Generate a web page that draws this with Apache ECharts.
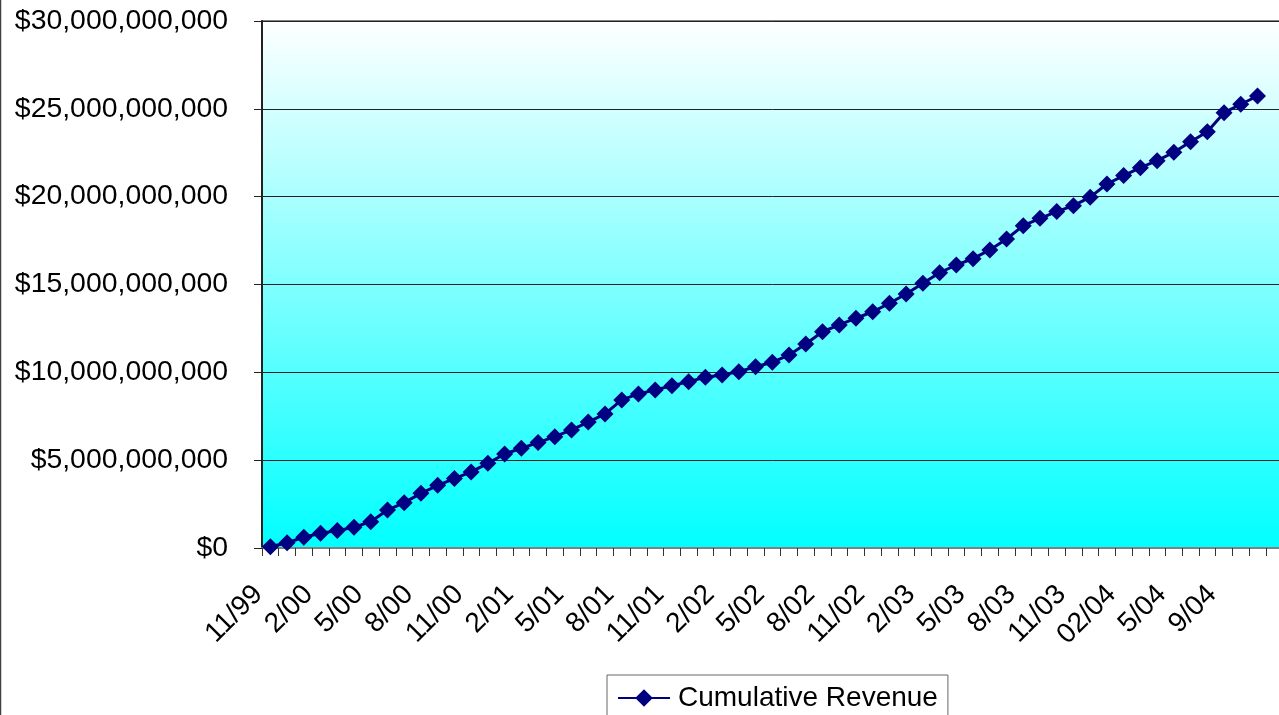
<!DOCTYPE html>
<html>
<head>
<meta charset="utf-8">
<script src="https://cdn.jsdelivr.net/npm/echarts@6/dist/echarts.min.js"></script>
<style>
html,body{margin:0;padding:0;background:#fff;overflow:hidden;width:1279px;height:715px;}
#chart{width:1290px;height:715px;}
</style>
</head>
<body>
<div id="chart"></div>
<script>
// Month categories (x axis), last slot empty as in the reference plot area
const categories = [
  '11/99','12/99','1/00','2/00','3/00','4/00','5/00','6/00','7/00','8/00','9/00','10/00',
  '11/00','12/00','1/01','2/01','3/01','4/01','5/01','6/01','7/01','8/01','9/01','10/01',
  '11/01','12/01','1/02','2/02','3/02','4/02','5/02','6/02','7/02','8/02','9/02','10/02',
  '11/02','12/02','1/03','2/03','3/03','4/03','5/03','6/03','7/03','8/03','9/03','10/03',
  '11/03','12/03','01/04','02/04','03/04','04/04','5/04','6/04','7/04','9/04','10/04','11/04',
  ''
];
// Cumulative revenue, in billions of dollars
const revenueBillions = [
  0.07, 0.30, 0.61, 0.84, 0.99, 1.18, 1.50, 2.16, 2.58, 3.11,
  3.57, 3.95, 4.33, 4.82, 5.35, 5.68, 6.00, 6.34, 6.72, 7.17,
  7.63, 8.43, 8.77, 9.00, 9.24, 9.47, 9.72, 9.85, 10.04, 10.32,
  10.57, 10.99, 11.61, 12.31, 12.70, 13.08, 13.45, 13.93, 14.46, 15.07,
  15.67, 16.11, 16.47, 16.97, 17.59, 18.35, 18.77, 19.15, 19.49, 19.97,
  20.72, 21.20, 21.65, 22.05, 22.53, 23.13, 23.70, 24.78, 25.26, 25.73
];
const yTicks = { min: 0, max: 30000000000, step: 5000000000 };
const seriesName = 'Cumulative Revenue';

const values = revenueBillions.map(v => v * 1e9);
const FONT = "'Liberation Sans', Arial, sans-serif";

const chart = echarts.init(document.getElementById('chart'), null, {renderer: 'canvas'});
chart.setOption({
  animation: false,
  backgroundColor: '#ffffff',
  textStyle: { fontFamily: FONT },
  grid: {
    left: 262, top: 21, right: 7.4, bottom: 167,
    show: true,
    borderColor: '#808080', borderWidth: 2,
    backgroundColor: {
      type: 'linear', x: 0, y: 0, x2: 0, y2: 1,
      colorStops: [{offset: 0, color: '#ffffff'}, {offset: 1, color: '#00ffff'}]
    }
  },
  legend: {
    left: 607, top: 675,
    padding: [9, 10, 9, 10],
    borderColor: '#666666', borderWidth: 1,
    itemWidth: 52, itemHeight: 22, itemGap: 0,
    textStyle: { fontFamily: FONT, fontSize: 28, color: '#000', padding: [0, 0, 0, 3] },
    data: [seriesName]
  },
  xAxis: {
    type: 'category',
    data: categories,
    boundaryGap: true,
    axisLine: { lineStyle: { color: '#808080', width: 2 } },
    axisTick: { show: true, interval: 0, length: 8, lineStyle: { color: '#333', width: 1 } },
    axisLabel: {
      interval: 2, rotate: 45, margin: 30,
      padding: [0, 17, 0, 0],
      fontFamily: FONT, fontSize: 28, color: '#000'
    },
    splitLine: { show: false }
  },
  yAxis: {
    type: 'value',
    min: yTicks.min, max: yTicks.max, interval: yTicks.step,
    axisLine: { show: true, lineStyle: { color: '#222', width: 2 } },
    axisTick: { show: true, length: 8, lineStyle: { color: '#222', width: 1 } },
    axisLabel: {
      margin: 34, fontFamily: FONT, fontSize: 28.4, color: '#000',
      formatter: v => '$' + Math.round(v).toLocaleString('en-US')
    },
    splitLine: { show: true, lineStyle: { color: '#222', width: 1 } }
  },
  series: [{
    name: seriesName,
    type: 'line',
    data: values,
    symbol: 'diamond',
    symbolSize: 17,
    showAllSymbol: true,
    lineStyle: { color: '#000080', width: 3 },
    itemStyle: { color: '#000080' }
  }],
  graphic: [{
    type: 'line', silent: true,
    shape: { x1: 0.5, y1: 0, x2: 0.5, y2: 715 },
    style: { stroke: '#404040', lineWidth: 1.5 }
  }]
});
</script>
</body>
</html>
